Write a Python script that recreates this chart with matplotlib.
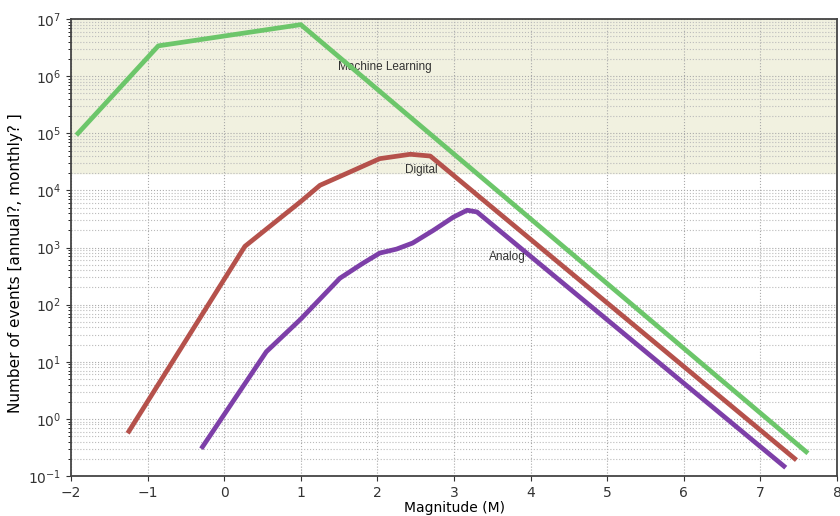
import matplotlib
matplotlib.use("Agg")
import matplotlib.pyplot as plt
from matplotlib.ticker import LogLocator, NullFormatter, MultipleLocator
import numpy as np

# Machine learning curve
ml_m = [-1.93, -0.86, 1.0, 7.62]
ml_n = [9.3e4, 3.4e6, 8.0e6, 0.25]

# Digital curve
dig_m = [-1.26, 0.27, 1.0, 1.25, 1.64, 2.03, 2.43, 2.69, 7.47]
dig_n = [0.56, 1.05e3, 6.4e3, 1.23e4, 2.1e4, 3.6e4, 4.3e4, 4.0e4, 0.19]

# Analog curve
ana_m = [-0.30, 0.55, 1.0, 1.51, 1.8, 2.03, 2.25, 2.46, 2.73, 2.99, 3.17, 3.30, 7.33]
ana_n = [0.30, 15, 56, 290, 520, 800, 940, 1200, 2000, 3400, 4500, 4200, 0.14]

band_lo, band_hi = 2e4, 1e7

fig = plt.figure(figsize=(8.4, 5.16), dpi=100)
ax = fig.add_axes([0.0845, 0.0775, 0.912, 0.8855])

ax.axhspan(band_lo, band_hi, color='#f1f1e0', zorder=0)

line_kw = dict(linewidth=3.4, solid_capstyle='butt', solid_joinstyle='round', zorder=3)
ax.plot(ml_m, ml_n, color='#6cc66a', **line_kw)
ax.plot(dig_m, dig_n, color='#b5514b', **line_kw)
ax.plot(ana_m, ana_n, color='#7d3fa8', **line_kw)

txt_kw = dict(ha='center', va='center', fontsize=8.5, family='Liberation Sans', color='#333333')
ax.text(2.10, 1.45e6, 'Machine Learning', zorder=2, **txt_kw)
ax.text(2.57, 2.3e4, 'Digital', zorder=4, **txt_kw)
ax.text(3.69, 6.8e2, 'Analog', zorder=4, **txt_kw)

ax.set_yscale('log')
ax.set_xlim(-2, 8)
ax.set_ylim(1e-1, 1e7)
ax.xaxis.set_major_locator(MultipleLocator(1))
ax.yaxis.set_major_locator(LogLocator(base=10, numticks=20))
ax.yaxis.set_minor_locator(LogLocator(base=10, subs=np.arange(2, 10), numticks=20))
ax.yaxis.set_minor_formatter(NullFormatter())

ax.grid(True, which='major', linestyle=':', color='#aaaaaa', linewidth=0.8, zorder=1)
ax.grid(True, which='minor', axis='y', linestyle=':', color='#bbbbbb', linewidth=0.8, zorder=1)
ax.set_axisbelow(True)

for s in ax.spines.values():
    s.set_color('#444444')
    s.set_linewidth(1.3)
ax.tick_params(labelsize=10, colors='#333333')

ax.set_xlabel('Magnitude (M)', fontsize=10, labelpad=1)
ax.set_ylabel('Number of events [annual?, monthly? ]', fontsize=11)
ax.yaxis.set_label_coords(-0.063, 0.466)

fig.savefig('out.png', dpi=100)
